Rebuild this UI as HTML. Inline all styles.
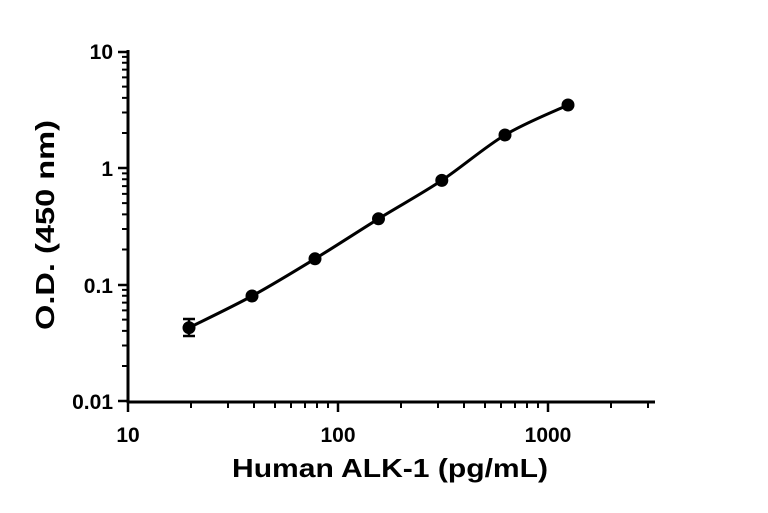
<!DOCTYPE html>
<html><head><style>body{margin:0;background:#fff}</style></head><body>
<svg width="768" height="508" xmlns="http://www.w3.org/2000/svg" font-family="Liberation Sans, sans-serif" font-weight="bold">
<g stroke="#000" stroke-width="3" fill="none">
<line x1="128" y1="50" x2="128" y2="403"/>
<line x1="127" y1="402" x2="655" y2="402"/>
</g>
<g stroke="#000" stroke-width="2.5">
<line x1="118" y1="52" x2="128" y2="52"/><line x1="118" y1="168" x2="128" y2="168"/><line x1="118" y1="285" x2="128" y2="285"/><line x1="118" y1="401" x2="128" y2="401"/>
<line x1="338" y1="402" x2="338" y2="412"/><line x1="548" y1="402" x2="548" y2="412"/><line x1="128" y1="402" x2="128" y2="412"/>
</g>
<g stroke="#000" stroke-width="2">
<path d="M122 366.0h6M122 345.5h6M122 330.9h6M122 319.6h6M122 310.4h6M122 302.6h6M122 295.8h6M122 289.9h6
M122 249.5h6M122 229h6M122 214.4h6M122 203.1h6M122 193.9h6M122 186.1h6M122 179.3h6M122 173.4h6
M122 133h6M122 112.5h6M122 97.9h6M122 86.6h6M122 77.4h6M122 69.6h6M122 62.8h6M122 56.9h6
M191 402v6M228 402v6M254 402v6M275 402v6M291 402v6M305 402v6M317 402v6M328 402v6
M401 402v6M438 402v6M464 402v6M485 402v6M501 402v6M515 402v6M527 402v6M538 402v6
M611 402v6M648 402v6"/>
</g>
<path d="M189 327.7 C199.5 322.4 231 307.5 252 296 C273 284.5 293.9 271.7 315 258.8 C336.1 245.9 357.4 231.9 378.5 218.8 C399.6 205.7 420.7 194.4 441.8 180.4 C462.9 166.4 484 147.6 505 135 C526 122.4 557.5 110 568 105" stroke="#000" stroke-width="3" fill="none"/>
<g stroke="#000" stroke-width="2.5"><line x1="189" y1="319" x2="189" y2="336"/><line x1="183" y1="319" x2="195" y2="319"/><line x1="183" y1="336" x2="195" y2="336"/></g>
<g fill="#000">
<circle cx="189" cy="327.7" r="6.5"/><circle cx="252" cy="296" r="6.5"/><circle cx="315" cy="258.8" r="6.5"/><circle cx="378.5" cy="218.8" r="6.5"/><circle cx="441.8" cy="180.4" r="6.5"/><circle cx="505" cy="135" r="6.5"/><circle cx="568" cy="105" r="6.5"/>
</g>
<g font-size="21" text-anchor="end">
<text x="113" y="59">10</text><text x="113" y="176">1</text><text x="113" y="293">0.1</text><text x="113" y="409">0.01</text>
</g>
<g font-size="21" text-anchor="middle">
<text x="128" y="442">10</text><text x="338" y="442">100</text><text x="548" y="442">1000</text>
</g>
<text x="390" y="477" font-size="26" text-anchor="middle" textLength="316" lengthAdjust="spacingAndGlyphs">Human ALK-1 (pg/mL)</text>
<text transform="translate(54,225) rotate(-90)" font-size="26" text-anchor="middle" textLength="210" lengthAdjust="spacingAndGlyphs">O.D. (450 nm)</text>
</svg>
</body></html>
